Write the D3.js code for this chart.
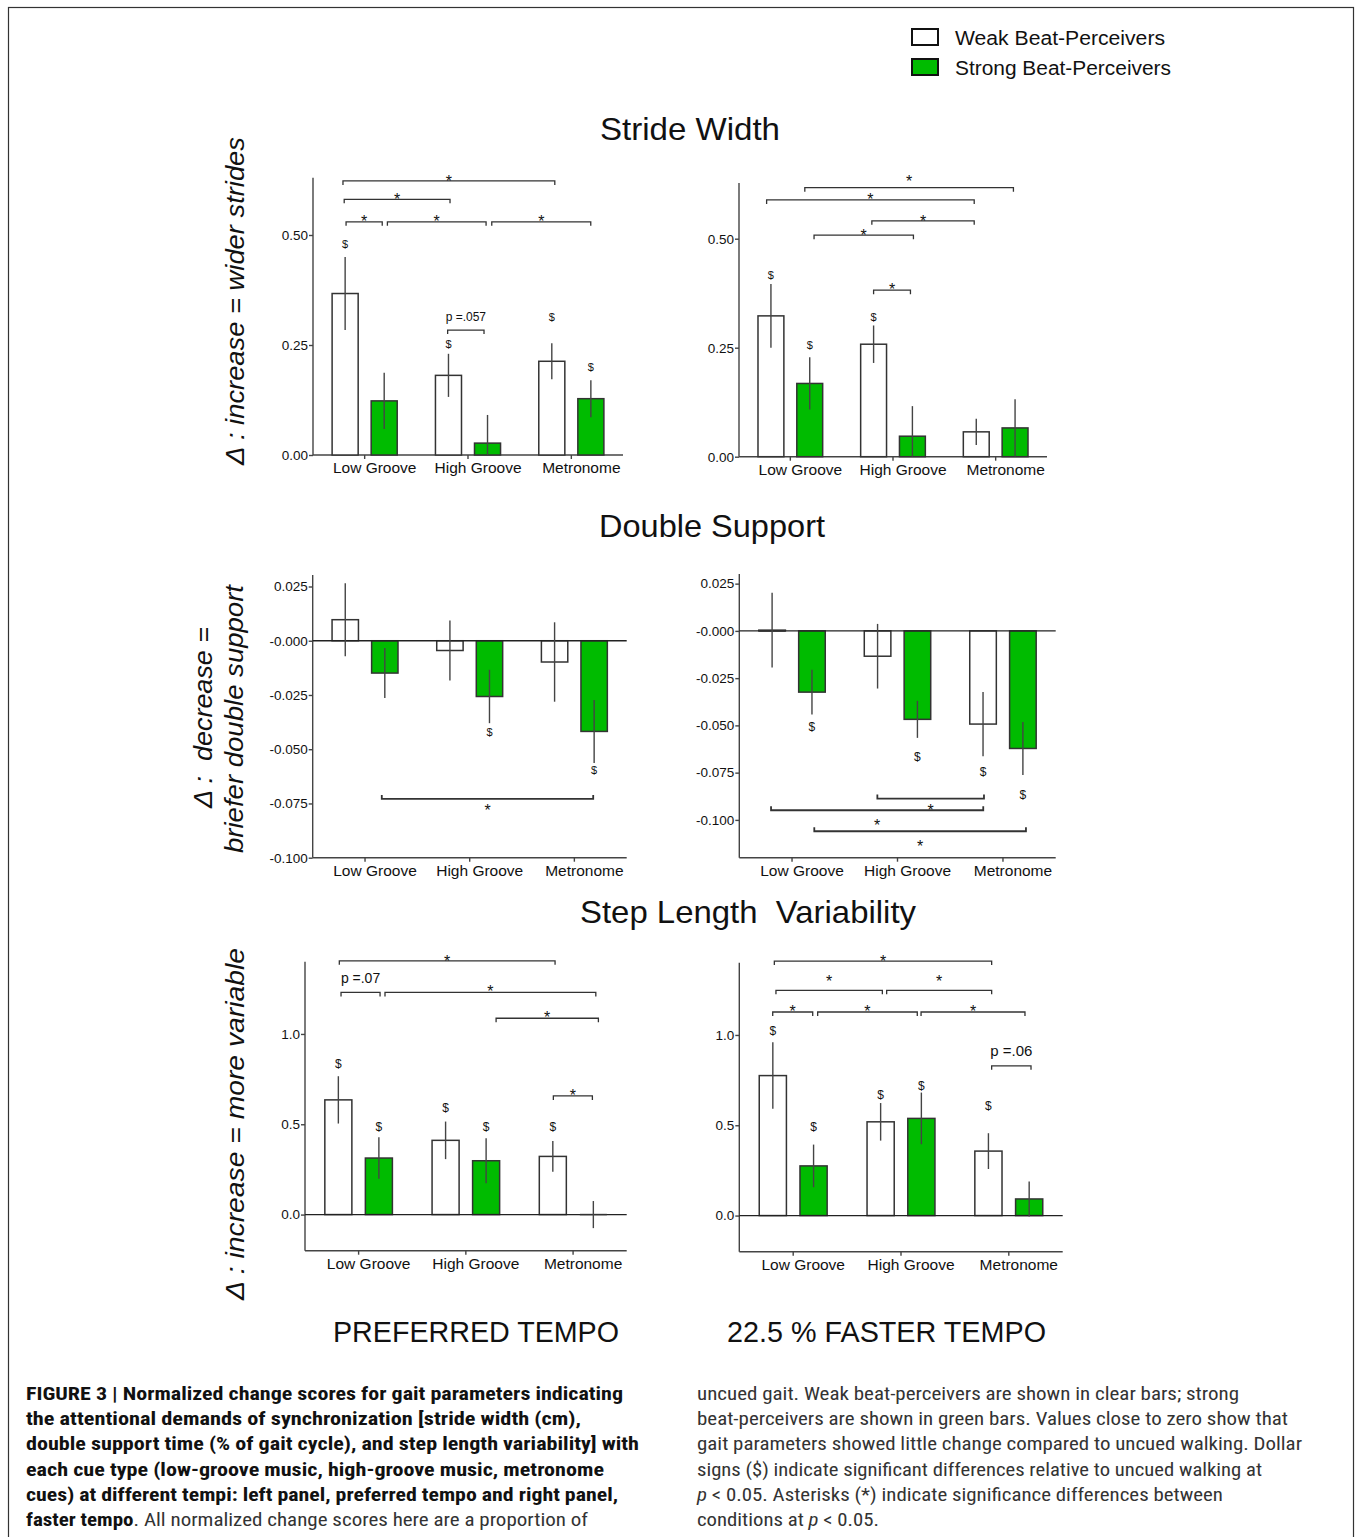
<!DOCTYPE html>
<html>
<head>
<meta charset="utf-8">
<script src="https://cdn.jsdelivr.net/npm/d3@7"></script>
<style>
  body { margin: 0; background: #fff; }
  svg text { font-family: "Liberation Sans", Arial, sans-serif; fill: #111; }
</style>
</head>
<body>
<div id="fig"></div>
<script>
// ---- data ----
var groups = ["Low Groove", "High Groove", "Metronome"];
var seriesNames = ["Weak Beat-Perceivers", "Strong Beat-Perceivers"];

// stride width
var swPrefWeak = [0.367, 0.181, 0.213], swPrefWeakSE = [0.083, 0.049, 0.041];
var swPrefStrong = [0.123, 0.027, 0.128], swPrefStrongSE = [0.064, 0.064, 0.042];
var swFastWeak = [0.323, 0.258, 0.057], swFastWeakSE = [0.073, 0.043, 0.030];
var swFastStrong = [0.168, 0.047, 0.066], swFastStrongSE = [0.060, 0.069, 0.066];
// double support
var dsPrefWeak = [0.0097, -0.0045, -0.0098], dsPrefWeakSE = [0.0168, 0.0138, 0.0183];
var dsPrefStrong = [-0.0149, -0.0257, -0.0418], dsPrefStrongSE = [0.0115, 0.0123, 0.0145];
var dsFastWeak = [0.0004, -0.0134, -0.0493], dsFastWeakSE = [0.0198, 0.0171, 0.0170];
var dsFastStrong = [-0.0324, -0.0468, -0.0622], dsFastStrongSE = [0.0119, 0.0098, 0.0140];
// step length variability
var slPrefWeak = [0.635, 0.411, 0.322], slPrefWeakSE = [0.131, 0.104, 0.085];
var slPrefStrong = [0.313, 0.298, 0.0], slPrefStrongSE = [0.115, 0.125, 0.075];
var slFastWeak = [0.775, 0.519, 0.357], slFastWeakSE = [0.184, 0.104, 0.099];
var slFastStrong = [0.275, 0.538, 0.092], slFastStrongSE = [0.118, 0.143, 0.097];

// y ticks
var swTicks = [0, 0.25, 0.5], swTickLabels = ["0.00", "0.25", "0.50"];
var dsTicks = [0.025, 0, -0.025, -0.05, -0.075, -0.1];
var dsTickLabels = ["0.025", "-0.000", "-0.025", "-0.050", "-0.075", "-0.100"];
var slTicks = [0, 0.5, 1.0], slTickLabels = ["0.0", "0.5", "1.0"];

// "$" marks: [group, series, y]
var swPrefDollars = [[0, 0, 0.48], [1, 0, 0.252], [2, 0, 0.314], [2, 1, 0.2]];
var swFastDollars = [[0, 0, 0.417], [0, 1, 0.256], [1, 0, 0.32]];
var dsPrefDollars = [[1, 1, -0.0421], [2, 1, -0.0595]];
var dsFastDollars = [[0, 1, -0.0505], [1, 1, -0.0667], [2, 0, -0.0743], [2, 1, -0.0866]];
var slPrefDollars = [[0, 0, 0.834], [0, 1, 0.485], [1, 0, 0.59], [1, 1, 0.485], [2, 0, 0.485]];
var slFastDollars = [[0, 0, 1.022], [0, 1, 0.492], [1, 0, 0.667], [1, 1, 0.718], [2, 0, 0.608]];

// significance brackets: [from, to (in group units), y, label, label y]
var swPrefBrackets = [
  [-0.21, 1.84, 0.623, "*", 0.632],
  [-0.198, 0.826, 0.581, "*", 0.591],
  [-0.18, 0.17, 0.530, "*", 0.540],
  [0.22, 1.175, 0.530, "*", 0.540],
  [1.23, 2.188, 0.530, "*", 0.540],
  [0.803, 1.155, 0.284, "p =.057", 0.314]
];
var swFastBrackets = [
  [0.141, 2.173, 0.617, "*", 0.642],
  [-0.231, 1.791, 0.589, "*", 0.599],
  [0.794, 1.791, 0.541, "*", 0.550],
  [0.231, 1.199, 0.508, "*", 0.518],
  [0.811, 1.170, 0.382, "*", 0.394]
];
var dsPrefBrackets = [[0.16, 2.18, -0.0729, "*", -0.0764]];
var dsFastBrackets = [
  [0.809, 1.82, -0.0887, "*", -0.0928],
  [-0.199, 1.813, -0.0949, "*", -0.1007],
  [0.211, 2.218, -0.106, "*", -0.1118]
];
var slPrefBrackets = [
  [-0.18, 1.832, 1.405, "*", 1.427],
  [-0.164, 0.2, 1.23, "p =.07", 1.311],
  [0.246, 2.212, 1.23, "*", 1.261],
  [1.282, 2.236, 1.087, "*", 1.114],
  [1.816, 2.18, 0.657, "*", 0.681]
];
var slFastBrackets = [
  [-0.175, 1.841, 1.409, "*", 1.431],
  [-0.16, 0.827, 1.247, "*", 1.32],
  [0.867, 1.841, 1.247, "*", 1.32],
  [-0.19, 0.181, 1.127, "*", 1.155],
  [0.227, 1.151, 1.127, "*", 1.155],
  [1.186, 2.15, 1.127, "*", 1.155],
  [1.841, 2.206, 0.829, "p =.06", 0.915]
];

var green = "#00bb00";

var svg = d3.select("#fig").append("svg")
  .attr("width", 1356).attr("height", 1537);

// frame
svg.append("rect").attr("x", 8.5).attr("y", 7.5).attr("width", 1345).attr("height", 1560)
  .attr("fill", "none").attr("stroke", "#333").attr("stroke-width", 1.2);

// legend
var legendLen = [210, 216];
var legend = svg.append("g");
seriesNames.forEach(function(s, i) {
  legend.append("rect").attr("x", 912).attr("y", 29 + i * 30).attr("width", 26).attr("height", 16)
    .attr("fill", i ? green : "#fff").attr("stroke", "#111").attr("stroke-width", 2);
  legend.append("text").attr("x", 955).attr("y", 45 + i * 30).style("font-size", "20px")
    .attr("textLength", legendLen[i]).attr("lengthAdjust", "spacingAndGlyphs").text(s);
});

function panel(o) {
  var x = d3.scaleBand().domain(groups).range(o.xr).padding(0);
  var y = d3.scaleLinear().domain(o.yd).range(o.yr);
  var step = x.step();
  var inner = d3.scaleBand().domain([0, 1]).range([-0.315 * step, 0.315 * step]).paddingInner(0.333);
  var gpos = function(v) { return x(groups[0]) + step / 2 + v * step; };
  var bx = function(gi, si) { return x(groups[gi]) + step / 2 + inner(si); };
  var g = svg.append("g");

  // y axis
  var ya = g.append("g").attr("transform", "translate(" + o.xr[0] + ",0)")
    .call(d3.axisLeft(y).tickValues(o.ticks).tickSize(4).tickPadding(1)
      .tickFormat(function(d, i) { return o.tickLabels[i]; }));
  ya.select(".domain").attr("d", "M0," + o.yr[0] + "V" + o.yr[1]);
  ya.selectAll("text").style("font-size", "13.5px").attr("fill", "#222");

  // x axis at bottom
  var xa = g.append("g").attr("transform", "translate(0," + o.yr[0] + ")")
    .call(d3.axisBottom(x).tickSize(4).tickPadding(3));
  xa.select(".domain").attr("d", "M" + o.xr[0] + ",0H" + o.xr[1]);
  xa.selectAll("text").style("font-size", "15.5px").attr("dx", 10).attr("fill", "#222");
  g.selectAll("text").style("font-family", "'Liberation Sans', Arial, sans-serif");
  g.selectAll(".domain, .tick line").attr("stroke", "#444").attr("stroke-width", 1.4);

  // bars
  var rows = [];
  o.series.forEach(function(sr, si) {
    sr.v.forEach(function(v, gi) { rows.push({ gi: gi, si: si, v: v, se: sr.se[gi] }); });
  });
  g.selectAll("rect.bar").data(rows).enter().append("rect").attr("class", "bar")
    .attr("x", function(d) { return bx(d.gi, d.si); })
    .attr("width", inner.bandwidth())
    .attr("y", function(d) { return Math.min(y(d.v), y(0)); })
    .attr("height", function(d) { return Math.abs(y(d.v) - y(0)); })
    .attr("fill", function(d) { return d.si ? green : "#fff"; })
    .attr("stroke", "#333").attr("stroke-width", 1.5);

  // zero line when axis is not at zero
  if (o.yd[0] < 0) {
    g.append("line").attr("x1", o.xr[0]).attr("x2", o.xr[1]).attr("y1", y(0)).attr("y2", y(0))
      .attr("stroke", "#222").attr("stroke-width", 1.4);
  }
  // flat bars at zero
  rows.filter(function(d) { return Math.abs(y(d.v) - y(0)) < 1; }).forEach(function(d) {
    g.append("line").attr("x1", bx(d.gi, d.si)).attr("x2", bx(d.gi, d.si) + inner.bandwidth())
      .attr("y1", y(0)).attr("y2", y(0)).attr("stroke", "#333").attr("stroke-width", 1.5);
  });

  // error bars
  g.selectAll("line.err").data(rows).enter().append("line").attr("class", "err")
    .attr("x1", function(d) { return bx(d.gi, d.si) + inner.bandwidth() / 2; })
    .attr("x2", function(d) { return bx(d.gi, d.si) + inner.bandwidth() / 2; })
    .attr("y1", function(d) { return y(d.v + d.se); })
    .attr("y2", function(d) { return Math.min(y(d.v - d.se), o.yr[0]); })
    .attr("stroke", "#444").attr("stroke-width", 1.4);

  // dollar signs
  g.selectAll("text.dol").data(o.dollars).enter().append("text").attr("class", "dol")
    .attr("x", function(d) { return bx(d[0], d[1]) + inner.bandwidth() / 2; })
    .attr("y", function(d) { return y(d[2]); })
    .attr("dy", "0.35em").attr("text-anchor", "middle")
    .style("font-size", o.dolSize + "px").attr("fill", "#222").text("$");

  // brackets
  var up = o.up ? -1 : 1;
  o.brackets.forEach(function(b) {
    var x1 = gpos(b[0]), x2 = gpos(b[1]), yy = y(b[2]);
    g.append("path").attr("fill", "none").attr("stroke", "#333").attr("stroke-width", o.up ? 1.8 : 1.3)
      .attr("d", "M" + x1 + "," + (yy + up * 4) + "V" + yy + "H" + x2 + "V" + (yy + up * 4));
    var star = b[3] === "*";
    g.append("text").attr("x", (x1 + x2) / 2).attr("y", y(b[4]))
      .attr("text-anchor", "middle")
      .attr("dy", star ? "0.62em" : "0.35em")
      .style("font-size", star ? "16px" : o.pSize + "px").text(b[3]);
  });
}

panel({ xr: [313, 623], yd: [0, 0.63], yr: [455, 177.8], ticks: swTicks, tickLabels: swTickLabels,
  series: [{ v: swPrefWeak, se: swPrefWeakSE }, { v: swPrefStrong, se: swPrefStrongSE }],
  dollars: swPrefDollars, brackets: swPrefBrackets, dolSize: 11, pSize: 12 });
panel({ xr: [739, 1047], yd: [0, 0.628], yr: [456.7, 182.9], ticks: swTicks, tickLabels: swTickLabels,
  series: [{ v: swFastWeak, se: swFastWeakSE }, { v: swFastStrong, se: swFastStrongSE }],
  dollars: swFastDollars, brackets: swFastBrackets, dolSize: 11, pSize: 12 });
panel({ xr: [312.7, 626.7], yd: [-0.1, 0.0303], yr: [857.7, 575], ticks: dsTicks, tickLabels: dsTickLabels,
  series: [{ v: dsPrefWeak, se: dsPrefWeakSE }, { v: dsPrefStrong, se: dsPrefStrongSE }],
  dollars: dsPrefDollars, brackets: dsPrefBrackets, dolSize: 11, pSize: 12, up: true });
panel({ xr: [739.3, 1055.7], yd: [-0.12, 0.0301], yr: [857.7, 574], ticks: dsTicks, tickLabels: dsTickLabels,
  series: [{ v: dsFastWeak, se: dsFastWeakSE }, { v: dsFastStrong, se: dsFastStrongSE }],
  dollars: dsFastDollars, brackets: dsFastBrackets, dolSize: 12, pSize: 12, up: true });
panel({ xr: [305, 626.7], yd: [-0.2, 1.4], yr: [1250.7, 961.7], ticks: slTicks, tickLabels: slTickLabels,
  series: [{ v: slPrefWeak, se: slPrefWeakSE }, { v: slPrefStrong, se: slPrefStrongSE }],
  dollars: slPrefDollars, brackets: slPrefBrackets, dolSize: 12, pSize: 14 });
panel({ xr: [739.3, 1062.7], yd: [-0.2, 1.4], yr: [1251.7, 962.7], ticks: slTicks, tickLabels: slTickLabels,
  series: [{ v: slFastWeak, se: slFastWeakSE }, { v: slFastStrong, se: slFastStrongSE }],
  dollars: slFastDollars, brackets: slFastBrackets, dolSize: 12, pSize: 15 });

// titles: [text, centre x, baseline, size, width]
var titles = [["Stride Width", 690, 140, 32, 180], ["Double Support", 712, 537, 32, 226],
  ["Step Length  Variability", 748, 923, 32, 336],
  ["PREFERRED TEMPO", 476, 1342, 29, 286], ["22.5 % FASTER TEMPO", 886.5, 1342, 29, 319]];
titles.forEach(function(t) {
  svg.append("text").attr("x", t[1]).attr("y", t[2]).attr("text-anchor", "middle")
    .style("font-size", t[3] + "px").style("white-space", "pre")
    .attr("textLength", t[4]).attr("lengthAdjust", "spacingAndGlyphs").text(t[0]);
});

// rotated y labels
var ylabels = [["\u0394 : increase = wider strides", 244, 301, 328],
  ["\u0394 :  decrease =", 212, 717.5, 181],
  ["briefer double support", 243, 719, 268],
  ["\u0394 : increase = more variable", 244, 1124, 352]];
ylabels.forEach(function(t) {
  svg.append("text").attr("transform", "translate(" + t[1] + "," + t[2] + ") rotate(-90)")
    .attr("text-anchor", "middle").style("font-size", "26px").style("font-style", "italic")
    .style("white-space", "pre").attr("textLength", t[3]).attr("lengthAdjust", "spacingAndGlyphs")
    .text(t[0]);
});

// caption
var capFont = "'Liberation Sans Narrow', 'Arial Narrow', 'Roboto Condensed', Arial, sans-serif";
var capLeft = [
  [["FIGURE 3 | Normalized change scores for gait parameters indicating", "b"]],
  [["the attentional demands of synchronization [stride width (cm),", "b"]],
  [["double support time (% of gait cycle), and step length variability] with", "b"]],
  [["each cue type (low-groove music, high-groove music, metronome", "b"]],
  [["cues) at different tempi: left panel, preferred tempo and right panel,", "b"]],
  [["faster tempo", "b"], [". All normalized change scores here are a proportion of", ""]]
];
var capLeftEnd = [623, 581, 639, 604, 618, 588];
var capRight = [
  [["uncued gait. Weak beat-perceivers are shown in clear bars; strong", ""]],
  [["beat-perceivers are shown in green bars. Values close to zero show that", ""]],
  [["gait parameters showed little change compared to uncued walking. Dollar", ""]],
  [["signs ($) indicate significant differences relative to uncued walking at", ""]],
  [["p", "i"], [" < 0.05. Asterisks (*) indicate significance differences between", ""]],
  [["conditions at ", ""], ["p", "i"], [" < 0.05.", ""]]
];
var capRightEnd = [1239, 1288, 1302, 1262, 1223, 879];
function caption(lines, ends, x0) {
  lines.forEach(function(parts, i) {
    var t = svg.append("text").attr("x", x0).attr("y", 1400 + i * 25.2)
      .style("font-size", "19px").style("font-family", capFont)
      .attr("textLength", ends[i] - x0).attr("lengthAdjust", "spacingAndGlyphs");
    parts.forEach(function(p) {
      t.append("tspan").text(p[0]).style("white-space", "pre")
        .style("font-weight", p[1] === "b" ? "bold" : "normal")
        .style("font-style", p[1] === "i" ? "italic" : "normal")
        .attr("fill", p[1] === "b" ? "#111" : "#333");
    });
  });
}
caption(capLeft, capLeftEnd, 26);
caption(capRight, capRightEnd, 697);
</script>
</body>
</html>
